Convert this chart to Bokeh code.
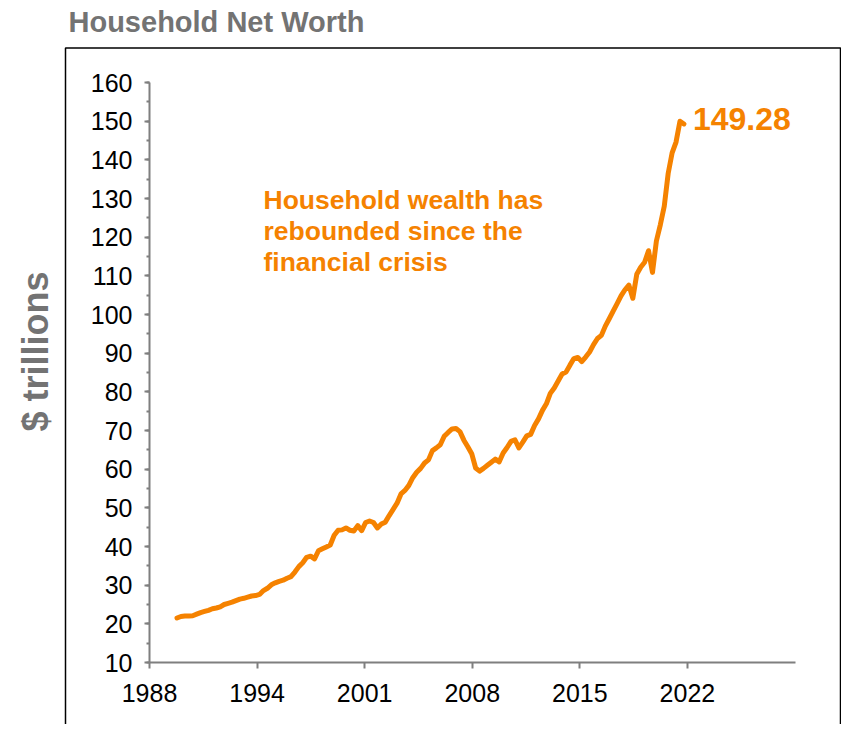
import math
from bokeh.plotting import figure
from bokeh.models import (Range1d, FixedTicker, SingleIntervalTicker, CustomJSTickFormatter,
                          Label, BoxAnnotation, ColumnDataSource)
from bokeh.embed import file_html
from bokeh.resources import INLINE

# ---------------- data ----------------
start_year = 1989
start_quarter = 4
net_worth = [
    21.5,
    21.9, 22.0, 22.0, 22.1,      # 1990
    22.5, 22.9, 23.2, 23.5,      # 1991
    23.9, 24.1, 24.4, 25.0,      # 1992
    25.3, 25.6, 26.0, 26.4,      # 1993
    26.6, 26.9, 27.2, 27.3,      # 1994
    27.6, 28.6, 29.2, 30.1,      # 1995
    30.6, 31.0, 31.3, 31.8,      # 1996
    32.2, 33.4, 34.8, 35.8,      # 1997
    37.2, 37.5, 36.8, 38.9,      # 1998
    39.4, 39.9, 40.4, 42.9,      # 1999
    44.2, 44.3, 44.8, 44.2,      # 2000
    44.0, 45.4, 44.1, 46.2,      # 2001
    46.6, 46.2, 44.8, 45.8,      # 2002
    46.3, 48.0, 49.6, 51.2,      # 2003
    53.6, 54.5, 55.8, 57.8,      # 2004
    59.2, 60.2, 61.6, 62.4,      # 2005
    64.8, 65.5, 66.3, 68.5,      # 2006
    69.5, 70.4, 70.5, 69.7,      # 2007
    67.5, 65.8, 64.0, 60.3,      # 2008
    59.5, 60.2, 61.0, 61.8,      # 2009
    62.6, 61.9, 64.2, 65.6,      # 2010
    67.2, 67.6, 65.5, 67.0,      # 2011
    68.6, 69.0, 71.3, 73.0,      # 2012
    75.2, 76.9, 79.6, 81.0,      # 2013
    82.8, 84.6, 85.1, 86.9,      # 2014
    88.6, 88.9, 87.8, 89.0,      # 2015
    90.3, 92.2, 93.8, 94.6,      # 2016
    97.0, 98.9, 100.9, 102.8,    # 2017
    104.8, 106.4, 107.6, 104.2,  # 2018
    110.4, 112.2, 113.5, 116.5,  # 2019
    110.9, 119.0, 123.2, 128.0,  # 2020
    136.5, 141.8, 144.6, 150.0,  # 2021
    149.28,                      # 2022
]
y_axis_min, y_axis_max, y_tick_step = 10, 160, 10
x_axis_start, x_axis_end = 1988.0, 2029.1
x_tick_step_days = 2500

title_text = "Household Net Worth"
y_label = "$ trillions"
note_lines = ["Household wealth has", "rebounded since the", "financial crisis"]

# ---------------- derived ----------------
years = [start_year + (start_quarter - 1) / 4 + i / 4 for i in range(len(net_worth))]
src = ColumnDataSource(dict(x=years, y=net_worth))

ORANGE = "#F58200"
GRAY = "#737373"
FONT = "Liberation Sans"

# canvas layout (pixels)
W, H = 841, 724
AX_L, AX_R, AX_T, AX_B = 149, 795, 82, 662   # axis box on canvas

ppx = (AX_R - AX_L) / (x_axis_end - x_axis_start)
ppy = (AX_B - AX_T) / (y_axis_max - y_axis_min)
xr = Range1d(x_axis_start - AX_L / ppx, x_axis_start + (W - AX_L) / ppx)
yr = Range1d(y_axis_max - (H - AX_T) / ppy, y_axis_max + AX_T / ppy)

p = figure(width=W, height=H, output_backend="svg", toolbar_location=None,
           x_range=xr, y_range=yr, min_border=0)
p.outline_line_color = None
p.xgrid.visible = False
p.ygrid.visible = False
p.background_fill_color = "white"
p.border_fill_color = "white"

step = x_tick_step_days / 365.25
xt = [x_axis_start + k * step for k in range(6)]
p.xaxis.ticker = FixedTicker(ticks=xt, minor_ticks=[])
p.xaxis.formatter = CustomJSTickFormatter(code="return Math.floor(tick + 1e-6).toString();")
p.yaxis.ticker = SingleIntervalTicker(interval=y_tick_step, num_minor_ticks=2)
p.xaxis.fixed_location = y_axis_min
p.yaxis.fixed_location = x_axis_start
p.xaxis.bounds = (x_axis_start, x_axis_end)
p.yaxis.bounds = (y_axis_min, y_axis_max)

for ax in (p.xaxis[0], p.yaxis[0]):
    ax.axis_line_color = "#7f7f7f"
    ax.axis_line_width = 2
    ax.major_tick_line_color = "#7f7f7f"
    ax.major_tick_line_width = 2
    ax.minor_tick_line_color = "#7f7f7f"
    ax.minor_tick_line_width = 2
    ax.major_tick_in = 0
    ax.minor_tick_in = 0
    ax.major_label_text_font = FONT
    ax.major_label_text_font_size = "25px"
    ax.major_label_text_color = "black"

p.yaxis.major_tick_out = 5
p.yaxis.minor_tick_out = 3
p.yaxis.major_label_standoff = 12
p.xaxis.major_tick_out = 6
p.xaxis.minor_tick_out = 0
p.xaxis.major_label_standoff = 15

p.line("x", "y", source=src, line_color=ORANGE, line_width=5, line_join="round", line_cap="round")

# outer box (canvas pixel units)
p.add_layout(BoxAnnotation(left=65, right=W - 1, top=47.5, bottom=H + 40,
                           left_units="canvas", right_units="canvas",
                           top_units="canvas", bottom_units="canvas",
                           fill_alpha=0, line_color="black", line_alpha=1.0,
                           line_width=1.5, level="underlay"))

# title
p.add_layout(Label(x=68, y=21, x_units="canvas", y_units="canvas", text=title_text,
                   text_font=FONT, text_font_size="29px",
                   text_font_style="bold", text_color=GRAY, text_baseline="alphabetic",
                   text_align="left"))

# y label
p.add_layout(Label(x=35, y=351, x_units="canvas", y_units="canvas", text=y_label,
                   text_font=FONT, text_font_size="36px",
                   text_font_style="bold", text_color=GRAY, angle=math.pi / 2,
                   text_align="center", text_baseline="alphabetic"))

# note
for i, line in enumerate(note_lines):
    p.add_layout(Label(x=263, y=199 + 31 * i, x_units="canvas", y_units="canvas", text=line,
                       text_font=FONT, text_font_size="26.5px", text_font_style="bold",
                       text_color=ORANGE, text_baseline="alphabetic", text_align="left"))

# end value label
p.add_layout(Label(x=years[-1], y=net_worth[-1], x_offset=9, y_offset=4.5,
                   text=f"{net_worth[-1]:.2f}", text_font=FONT, text_font_size="32px",
                   text_font_style="bold", text_color=ORANGE, text_baseline="alphabetic",
                   text_align="left"))

open("out.html", "w").write(file_html(p, INLINE))
